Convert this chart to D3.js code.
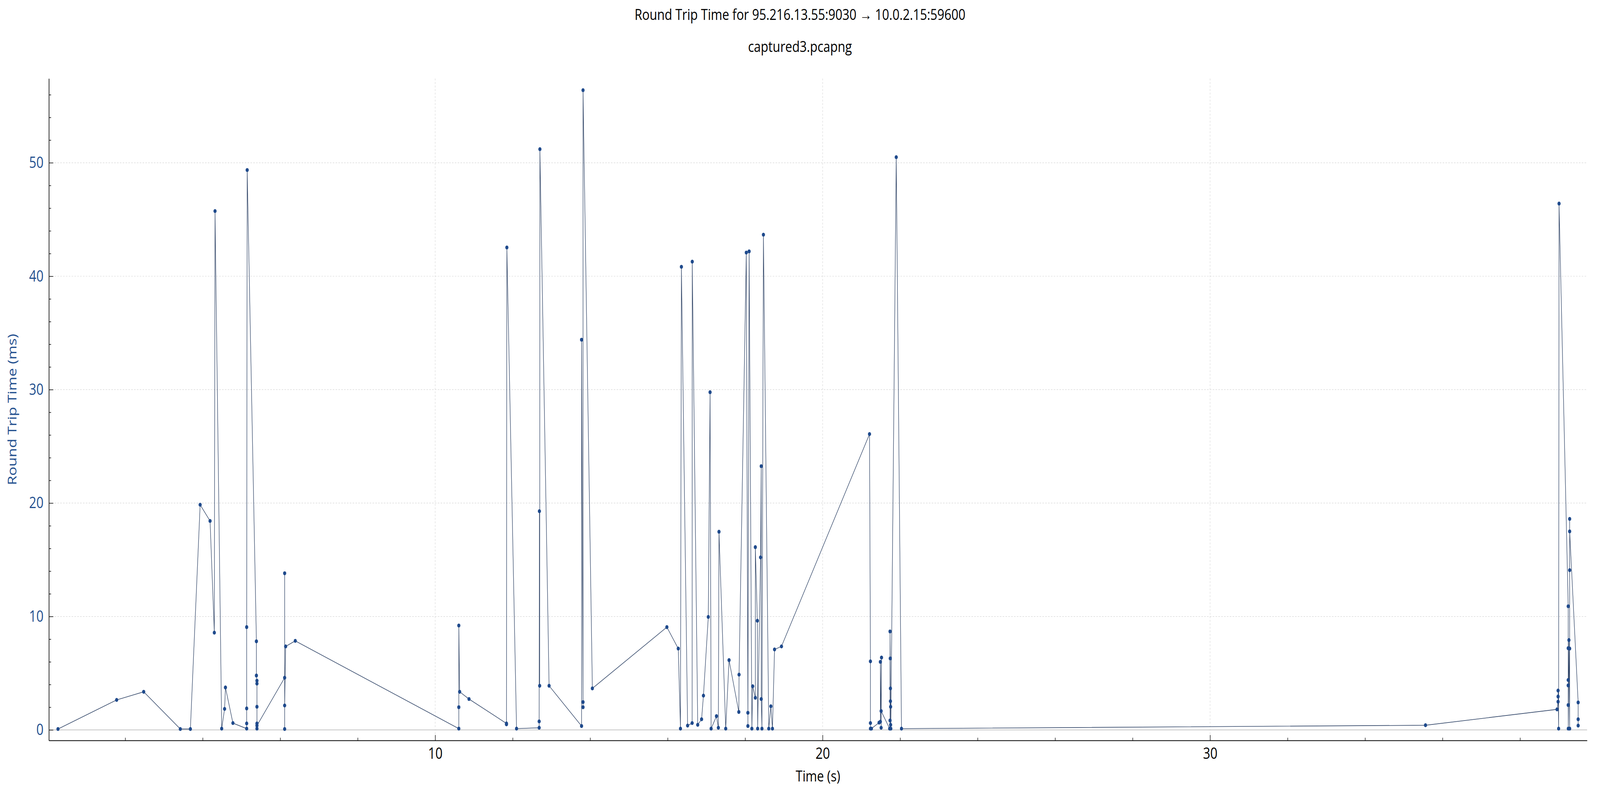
<!DOCTYPE html>
<html>
<head>
<meta charset="utf-8" />
<title>Round Trip Time</title>
<script src="https://cdn.jsdelivr.net/npm/d3@7"></script>
<style>
  html, body { margin: 0; padding: 0; background: #fff; overflow: hidden; }
  svg { display: block; }
  svg text { font-family: "Open Sans", "Noto Sans", sans-serif; }
</style>
</head>
<body>
<div id="chart"></div>
<script>
// RTT samples, in capture order (time in s, rtt in ms)
var times = [
  0.265, 1.779, 2.477, 3.422, 3.682, 3.934, 4.19, 4.30, 4.318, 4.49, 4.565, 4.587, 4.78,
  5.135, 5.135, 5.135, 5.135, 5.148,
  5.386, 5.386, 5.40, 5.40, 5.40, 5.40, 5.40, 5.40,
  6.115, 6.115, 6.115, 6.115, 6.141, 6.389,
  10.61, 10.61, 10.61, 10.632, 10.873, 11.84, 11.84, 11.85, 12.10,
  12.684, 12.684, 12.69, 12.697, 12.703, 12.94,
  13.778, 13.778, 13.816, 13.816, 13.816, 14.057,
  15.98, 16.274, 16.331, 16.355, 16.515, 16.632, 16.635, 16.776, 16.876, 16.924,
  17.049, 17.095, 17.122, 17.26, 17.309, 17.325, 17.499, 17.585, 17.837, 17.843,
  18.03, 18.071, 18.071, 18.103, 18.174, 18.195, 18.263, 18.263, 18.315, 18.323,
  18.398, 18.415, 18.415, 18.434, 18.472, 18.61, 18.664, 18.705, 18.759, 18.938,
  21.21, 21.234, 21.234, 21.234, 21.26, 21.457, 21.49, 21.49, 21.51, 21.52, 21.51,
  21.73, 21.74, 21.74, 21.745, 21.75, 21.75, 21.755, 21.755, 21.76, 21.90, 22.035,
  35.56,
  38.955, 38.982, 38.982, 38.982, 38.996, 39.007,
  39.243, 39.243, 39.243, 39.243, 39.243, 39.245, 39.262, 39.281, 39.281, 39.281, 39.281, 39.281,
  39.50, 39.50, 39.50
];
var rtt = [
  0.08, 2.64, 3.36, 0.08, 0.08, 19.85, 18.42, 8.57, 45.74, 0.11, 1.85, 3.74, 0.6,
  0.11, 0.57, 1.89, 9.06, 49.36,
  7.81, 4.79, 4.34, 4.08, 2.04, 0.11, 0.57, 0.38,
  4.6, 13.81, 0.08, 2.15, 7.36, 7.85,
  0.11, 2.0, 9.2, 3.36, 2.72, 0.57, 0.49, 42.53, 0.11,
  0.19, 0.75, 19.28, 3.89, 51.2, 3.89,
  0.34, 34.4, 2.45, 2.0, 56.4, 3.66,
  9.06, 7.17, 0.11, 40.83, 0.38, 0.6, 41.28, 0.45, 0.94, 3.02,
  9.96, 29.77, 0.11, 1.21, 0.19, 17.47, 0.11, 6.15, 1.58, 4.87,
  42.08, 1.51, 0.34, 42.19, 0.11, 3.85, 2.83, 16.11, 9.62, 0.11,
  15.21, 23.25, 2.72, 0.11, 43.66, 0.11, 2.08, 0.11, 7.09, 7.36,
  26.08, 6.04, 0.6, 0.11, 0.11, 0.64, 0.72, 6.0, 0.19, 6.38, 1.66,
  0.11, 0.83, 8.68, 6.3, 3.66, 2.53, 2.04, 0.45, 0.11, 50.49, 0.11,
  0.41,
  1.81, 2.49, 2.94, 3.47, 0.11, 46.4,
  10.9, 7.2, 4.4, 3.92, 2.19, 0.11, 7.92, 0.11, 7.17, 14.08, 18.6, 17.5,
  2.42, 0.38, 0.94
];

var xMajor = [10, 20, 30];
var yMajor = [0, 10, 20, 30, 40, 50];
var titleText = "Round Trip Time for 95.216.13.55:9030 \u2192 10.0.2.15:59600";
var subtitleText = "captured3.pcapng";
var xLabel = "Time (s)";
var yLabel = "Round Trip Time (ms)";

var W = 5073, H = 2028;
var plotL = 155, plotR = 5032, plotT = 201, plotB = 1896;
var blue = "#23508f";

var svg = d3.select("#chart").append("svg")
  .attr("width", window.innerWidth).attr("height", window.innerHeight)
  .attr("viewBox", "0 0 " + W + " " + H)
  .attr("preserveAspectRatio", "none");
svg.append("rect").attr("width", W).attr("height", H).attr("fill", "#fff");

var x = d3.scaleLinear().domain([0.03, 39.73]).range([plotL, plotR]);
var y = d3.scaleLinear().domain([-0.93, 57.43]).range([plotB, plotT]);

var xMinor = d3.range(2, 39.7, 2).filter(function(d) { return d % 10 !== 0; });
var yMinor = d3.range(2, 57.4, 2).filter(function(d) { return d % 10 !== 0; });

// grid
var grid = svg.append("g");
grid.selectAll(".hg").data(yMajor).enter().append("line")
  .attr("x1", plotL).attr("x2", plotR)
  .attr("y1", function(d) { return y(d); }).attr("y2", function(d) { return y(d); })
  .attr("stroke", function(d) { return d === 0 ? "#c6c6c6" : "#d4d4d4"; })
  .attr("stroke-width", function(d) { return d === 0 ? 2 : 1.2; })
  .attr("stroke-dasharray", function(d) { return d === 0 ? null : "5,4"; });
grid.selectAll(".vg").data(xMajor).enter().append("line")
  .attr("y1", plotT).attr("y2", plotB)
  .attr("x1", function(d) { return x(d); }).attr("x2", function(d) { return x(d); })
  .attr("stroke", "#d4d4d4").attr("stroke-width", 1.2).attr("stroke-dasharray", "5,4");

// axes
var yAxis = svg.append("g").attr("transform", "translate(" + plotL + ",0)")
  .call(d3.axisLeft(y).tickValues(yMajor).tickSize(-14).tickSizeOuter(0).tickPadding(17));
var yMinorAxis = svg.append("g").attr("transform", "translate(" + plotL + ",0)")
  .call(d3.axisLeft(y).tickValues(yMinor).tickSize(-7).tickFormat(""));
yMinorAxis.select(".domain").remove();
yAxis.selectAll("text").attr("fill", blue).style("font-size", "40px");

var xAxis = svg.append("g").attr("transform", "translate(0," + plotB + ")")
  .call(d3.axisBottom(x).tickValues(xMajor).tickSize(-14).tickSizeOuter(0).tickPadding(19));
var xMinorAxis = svg.append("g").attr("transform", "translate(0," + plotB + ")")
  .call(d3.axisBottom(x).tickValues(xMinor).tickSize(-7).tickFormat(""));
xMinorAxis.select(".domain").remove();
xAxis.selectAll("text").attr("fill", "#000").style("font-size", "40px");

svg.selectAll(".domain").attr("stroke", "#000").attr("stroke-width", 2);
svg.selectAll(".tick line").attr("stroke", "#000").attr("stroke-width", 1.5);

// series
var pts = times.map(function(t, i) { return [t, rtt[i]]; });
var line = d3.line().x(function(d) { return x(d[0]); }).y(function(d) { return y(d[1]); });
svg.append("path").datum(pts)
  .attr("d", line)
  .attr("fill", "none")
  .attr("stroke", "#34486a")
  .attr("stroke-width", 1.6);
svg.append("g").selectAll("circle").data(pts).enter().append("circle")
  .attr("cx", function(d) { return x(d[0]); })
  .attr("cy", function(d) { return y(d[1]); })
  .attr("r", 5)
  .attr("fill", "#1f4a8c");

// titles and labels
svg.append("text").attr("x", W / 2).attr("y", 51).attr("text-anchor", "middle")
  .style("font-size", "39px").attr("fill", "#000").text(titleText);
svg.append("text").attr("x", W / 2).attr("y", 133).attr("text-anchor", "middle")
  .style("font-size", "39px").attr("fill", "#000").text(subtitleText);
svg.append("text").attr("x", (plotL + plotR) / 2).attr("y", 2001).attr("text-anchor", "middle")
  .style("font-size", "39px").attr("fill", "#000").text(xLabel);
svg.append("text").attr("transform", "translate(52," + ((plotT + plotB) / 2) + ") rotate(-90)")
  .attr("text-anchor", "middle")
  .style("font-size", "39px").attr("fill", blue).text(yLabel);
</script>
</body>
</html>
